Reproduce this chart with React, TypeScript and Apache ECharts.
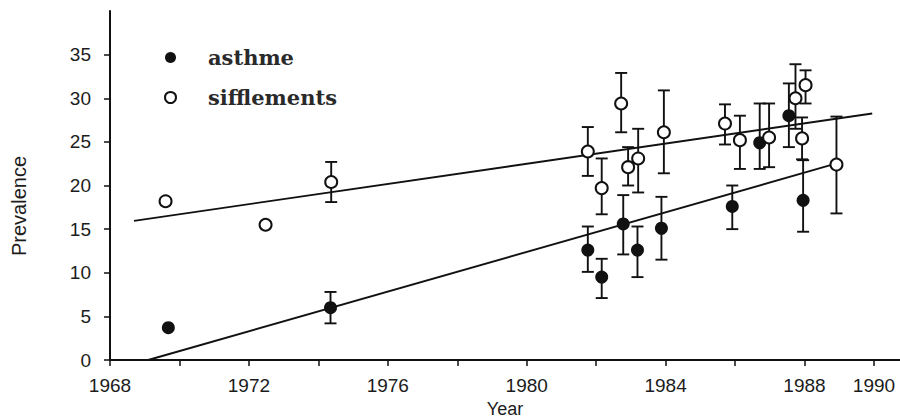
import React, { useEffect, useRef } from "react";
import * as echarts from "echarts";

// Asthma prevalence by survey year (filled markers)
const asthmeYear = [1969.68, 1974.35, 1981.76, 1982.16, 1982.78, 1983.19, 1983.88, 1985.92, 1986.71, 1987.55, 1987.96];
const asthmeValue = [3.7, 6.0, 12.6, 9.5, 15.6, 12.6, 15.1, 17.6, 24.9, 28.0, 18.3];
const asthmeLow = [null, 4.2, 10.1, 7.1, 12.1, 9.5, 11.5, 15.0, 21.9, 24.4, 14.7];
const asthmeHigh = [null, 7.8, 15.3, 11.6, 18.9, 15.3, 18.7, 20.0, 29.4, 31.7, 22.9];

// Wheeze ("sifflements") prevalence by survey year (open markers)
const sifYear = [1969.6, 1972.48, 1974.37, 1981.76, 1982.16, 1982.72, 1982.92, 1983.21, 1983.95, 1985.71, 1986.14, 1986.98, 1987.74, 1987.93, 1988.03, 1988.92];
const sifValue = [18.2, 15.5, 20.4, 23.9, 19.7, 29.4, 22.1, 23.1, 26.1, 27.1, 25.2, 25.5, 30.0, 25.4, 31.5, 22.4];
const sifLow = [null, null, 18.1, 21.1, 16.7, 26.1, 20.0, 19.2, 21.4, 24.7, 21.9, 22.1, 26.5, 23.0, 29.4, 16.8];
const sifHigh = [null, null, 22.7, 26.7, 23.1, 32.9, 24.4, 26.5, 30.9, 29.3, 28.0, 29.4, 33.9, 27.8, 33.2, 27.9];

// Fitted trend lines (end points)
const asthmeTrendYear = [1969.1, 1988.9];
const asthmeTrendValue = [0, 22.5];
const sifTrendYear = [1968.69, 1989.95];
const sifTrendValue = [15.95, 28.25];

// Axis ticks and labels
const xTickValues = [1968, 1970, 1972, 1974, 1976, 1978, 1980, 1982, 1984, 1986, 1988, 1990];
const xLabelValues = [1968, 1972, 1976, 1980, 1984, 1988, 1990];
const yTickValues = [0, 5, 10, 15, 20, 25, 30, 35];

const INK = "#111";
const LABEL = "#1c1c1c";

function pairs(xs: number[], ys: number[]) {
  return xs.map((x, i) => [x, ys[i]]);
}

function bars(xs: number[], lo: (number | null)[], hi: (number | null)[]) {
  const out: number[][] = [];
  xs.forEach((x, i) => {
    if (lo[i] != null && hi[i] != null) out.push([x, lo[i] as number, hi[i] as number]);
  });
  return out;
}

function renderErrorBar(params: any, api: any) {
  const x = api.value(0);
  const top = api.coord([x, api.value(2)]);
  const bot = api.coord([x, api.value(1)]);
  const cap = 6;
  const style = { stroke: INK, lineWidth: 1.9 };
  return {
    type: "group",
    children: [
      { type: "line", shape: { x1: top[0], y1: top[1], x2: bot[0], y2: bot[1] }, style },
      { type: "line", shape: { x1: top[0] - cap, y1: top[1], x2: top[0] + cap, y2: top[1] }, style },
      { type: "line", shape: { x1: bot[0] - cap, y1: bot[1], x2: bot[0] + cap, y2: bot[1] }, style },
    ],
  };
}

export default function App() {
  const ref = useRef<HTMLDivElement>(null);

  useEffect(() => {
    if (!ref.current) return;
    const chart = echarts.init(ref.current, null, { renderer: "svg" });
    const axisFont = { fontFamily: "Liberation Sans, Arial, sans-serif", fontSize: 19, color: LABEL };

    chart.setOption({
      animation: false,
      backgroundColor: "#fff",
      grid: { left: 110, right: 0, top: 11, bottom: 59, containLabel: false, outerBoundsMode: "none" },
      legend: {
        orient: "vertical",
        left: 159,
        top: 42,
        itemWidth: 11,
        itemHeight: 11,
        itemGap: 19,
        selectedMode: false,
        data: [
          { name: "asthme", icon: "circle", itemStyle: { color: INK, borderWidth: 0, opacity: 1 } },
          { name: "sifflements", icon: "circle", itemStyle: { color: "#fff", borderColor: INK, borderWidth: 2, opacity: 1 } },
        ],
        textStyle: {
          fontFamily: "DejaVu Serif, serif",
          fontWeight: "bold",
          fontSize: 21,
          color: "#2a2a2a",
          padding: [0, 0, 0, 27],
        },
      },
      xAxis: {
        type: "value",
        min: 1968,
        max: 1990.75,
        name: "Year",
        nameLocation: "middle",
        nameGap: 39,
        nameTextStyle: { ...axisFont, fontSize: 18 },
        axisLine: { show: true, onZero: false, lineStyle: { color: INK, width: 2 } },
        axisTick: { show: true, length: 6, customValues: xTickValues, lineStyle: { color: INK, width: 1.5 } },
        axisLabel: { ...axisFont, margin: 16, customValues: xLabelValues, formatter: (v: number) => String(v) },
        splitLine: { show: false },
      },
      yAxis: {
        type: "value",
        min: 0,
        max: 40,
        axisLine: { show: true, lineStyle: { color: INK, width: 2 } },
        axisTick: { show: true, length: 6, customValues: yTickValues, lineStyle: { color: INK, width: 1.5 } },
        axisLabel: { ...axisFont, margin: 19, customValues: yTickValues },
        splitLine: { show: false },
      },
      graphic: [
        {
          type: "text",
          x: 19,
          y: 206,
          rotation: Math.PI / 2,
          style: {
            text: "Prevalence",
            align: "center",
            verticalAlign: "middle",
            font: "20px 'Liberation Sans', Arial, sans-serif",
            fill: LABEL,
          },
        },
      ],
      series: [
        {
          name: "asthme-trend",
          type: "line",
          data: pairs(asthmeTrendYear, asthmeTrendValue),
          symbol: "none",
          lineStyle: { color: INK, width: 1.9 },
          z: 2,
        },
        {
          name: "sifflements-trend",
          type: "line",
          data: pairs(sifTrendYear, sifTrendValue),
          symbol: "none",
          lineStyle: { color: INK, width: 1.9 },
          z: 2,
        },
        {
          name: "asthme-err",
          type: "custom",
          renderItem: renderErrorBar,
          data: bars(asthmeYear, asthmeLow, asthmeHigh),
          encode: { x: 0, y: [1, 2] },
          z: 3,
        },
        {
          name: "sifflements-err",
          type: "custom",
          renderItem: renderErrorBar,
          data: bars(sifYear, sifLow, sifHigh),
          encode: { x: 0, y: [1, 2] },
          z: 3,
        },
        {
          name: "asthme",
          type: "scatter",
          data: pairs(asthmeYear, asthmeValue),
          symbol: "circle",
          symbolSize: 13,
          itemStyle: { color: INK, opacity: 1 },
          z: 4,
        },
        {
          name: "sifflements",
          type: "scatter",
          data: pairs(sifYear, sifValue),
          symbol: "circle",
          symbolSize: 12,
          itemStyle: { color: "#fff", borderColor: INK, borderWidth: 2, opacity: 1 },
          z: 5,
        },
      ],
    });

    return () => chart.dispose();
  }, []);

  return (
    <div
      ref={ref}
      style={{ position: "fixed", left: 0, top: 0, width: 900, height: 419, background: "#fff" }}
    />
  );
}
